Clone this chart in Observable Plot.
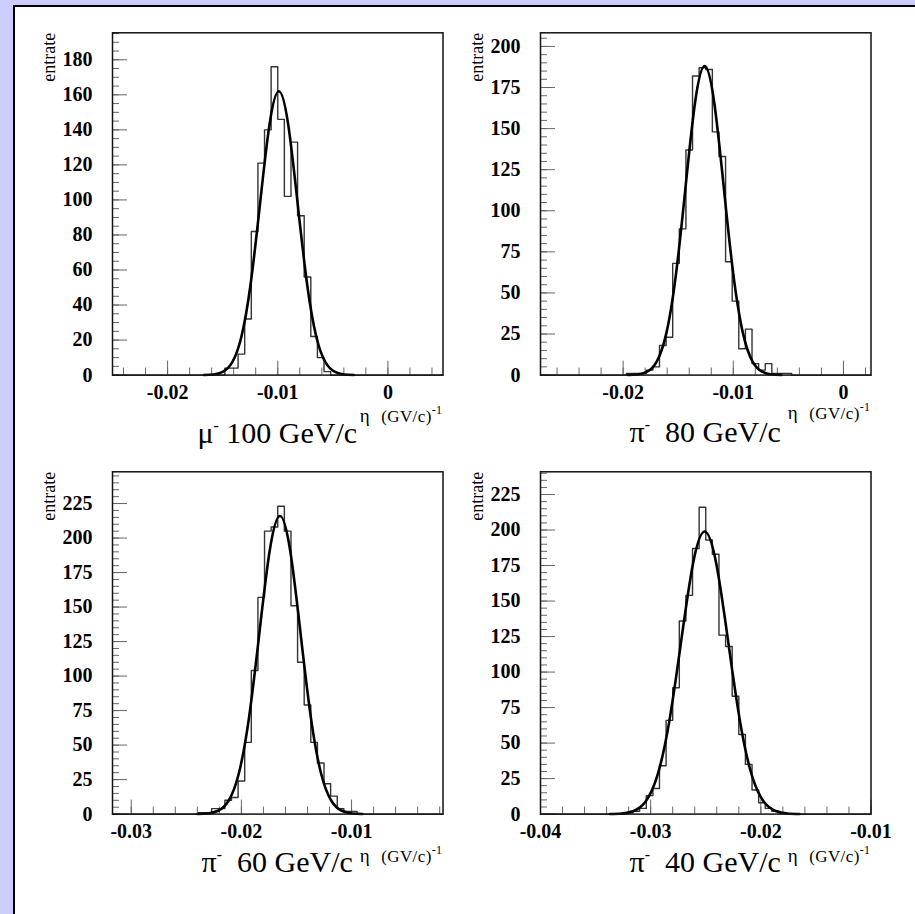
<!DOCTYPE html>
<html>
<head>
<meta charset="utf-8">
<script src="https://cdn.jsdelivr.net/npm/d3@7"></script>
<script src="https://cdn.jsdelivr.net/npm/@observablehq/plot@0.6"></script>
<style>
html, body { margin: 0; padding: 0; background: #ffffff; overflow: hidden; }
#page { position: relative; width: 915px; height: 914px; overflow: hidden; background: #ffffff; }
#bandLeft { position: absolute; left: 0; top: 0; width: 13px; height: 914px; background: #ccccff; }
#bandTop { position: absolute; left: 0; top: 0; width: 915px; height: 5px; background: #ccccff; }
#lineLeft { position: absolute; left: 13px; top: 5px; width: 2px; height: 909px; background: #000; }
#lineTop { position: absolute; left: 13px; top: 5px; width: 902px; height: 2px; background: #000; }
.panel { position: absolute; }
.cap { position: absolute; width: 320px; font-family: "Liberation Serif", serif; font-size: 30px; line-height: 30px;
  text-align: center; white-space: pre; color: #000; }
.cap sup { font-size: 16px; line-height: 0; position: relative; top: -12px; vertical-align: baseline; }
.xt { position: absolute; width: 200px; font-family: "Liberation Serif", serif; font-size: 17px; line-height: 16px;
  text-align: right; white-space: pre; color: #000; letter-spacing: 0.4px; }
.xt .eta { font-size: 19px; margin-right: 11px; }
.xt sup { font-size: 12px; line-height: 0; position: relative; top: -8px; vertical-align: baseline; }
</style>
</head>
<body>
<div id="page"><div id="bandLeft"></div><div id="bandTop"></div><div id="lineLeft"></div><div id="lineTop"></div></div>
<script>
// ---------- data ----------
const particles = ["μ", "π", "π", "π"];
const momenta = ["100 GeV/c", "80 GeV/c", "60 GeV/c", "40 GeV/c"];
const yAxisTitle = "entrate";
const xAxisTitle = "(GV/c)";
const xAxisSymbol = "η";

// histogram ranges (50 bins each) and y-axis maxima
const xRanges = [[-0.025, 0.005], [-0.0275, 0.0025], [-0.0317, -0.0017], [-0.04, -0.01]];
const yMaxima = [195.4, 208.3, 248, 241];

const mu100Counts = [0,0,0,0,0,0,0,0,0,0, 0,0,0,0,0,0,0,4,4,12, 32,82,121,140,176,146,102,133,91,56, 22,10,2,0,0,0,0,0,0,0, 0,0,0,0,0,0,0,0,0,0];
const pi80Counts  = [0,0,0,0,0,0,0,0,0,0, 0,0,0,1,1,1,3,5,18,23, 68,89,137,182,187,186,148,133,69,45, 16,28,7,3,7,1,1,1,0,0, 0,0,0,0,0,0,0,0,0,0];
const pi60Counts  = [0,0,0,0,0,0,0,0,0,0, 0,0,0,1,1,4,4,10,12,24, 52,104,157,205,208,223,205,151,110,79, 52,37,22,13,4,2,2,0,0,0, 0,0,0,0,0,0,0,0,0,0];
const pi40Counts  = [0,0,0,0,0,0,0,0,0,0, 0,0,0,1,2,4,13,18,34,66, 89,136,154,187,216,193,183,126,118,83, 56,35,17,8,4,2,1,0,0,0, 0,0,0,0,0,0,0,0,0,0];

// gaussian fit curves
const mu100FitX = [-0.0167,-0.01585,-0.015,-0.01415,-0.0133,-0.01245,-0.0116,-0.01075,-0.0099,-0.00905,-0.0082,-0.00735,-0.0065,-0.00565,-0.0048,-0.00395,-0.0031];
const mu100FitY = [0.05,0.35,1.8,7.1,21.9,52.6,98.3,143.0,162,143.0,98.3,52.6,21.9,7.1,1.8,0.35,0.05];
const pi80FitX = [-0.01956,-0.01869,-0.01782,-0.01695,-0.01608,-0.01521,-0.01434,-0.01347,-0.0126,-0.01173,-0.01086,-0.00999,-0.00912,-0.00825,-0.00738,-0.00651,-0.00564];
const pi80FitY = [0.06,0.41,2.09,8.26,25.4,61.0,114.0,165.9,188,165.9,114.0,61.0,25.4,8.26,2.09,0.41,0.06];
const pi60FitX = [-0.02398,-0.023045,-0.02211,-0.021175,-0.02024,-0.019305,-0.01837,-0.017435,-0.0165,-0.015565,-0.01463,-0.013695,-0.01276,-0.011825,-0.01089,-0.009955,-0.00902];
const pi60FitY = [0.07,0.47,2.40,9.49,29.2,70.1,131.0,190.6,216,190.6,131.0,70.1,29.2,9.49,2.40,0.47,0.07];
const pi40FitX = [-0.0337,-0.032625,-0.03155,-0.030475,-0.0294,-0.028325,-0.02725,-0.026175,-0.0251,-0.024025,-0.02295,-0.021875,-0.0208,-0.019725,-0.01865,-0.017575,-0.0165];
const pi40FitY = [0.07,0.44,2.21,8.74,26.9,64.6,120.7,175.6,199,175.6,120.7,64.6,26.9,8.74,2.21,0.44,0.07];

// tick labels
const yMajorTicks = [
  [0,20,40,60,80,100,120,140,160,180],
  [0,25,50,75,100,125,150,175,200],
  [0,25,50,75,100,125,150,175,200,225],
  [0,25,50,75,100,125,150,175,200,225]
];
const xMajorTicks = [
  [-0.02,-0.01,0],
  [-0.02,-0.01,0],
  [-0.03,-0.02,-0.01],
  [-0.04,-0.03,-0.02,-0.01]
];

// ---------- layout ----------
const counts = [mu100Counts, pi80Counts, pi60Counts, pi40Counts];
const fitsX = [mu100FitX, pi80FitX, pi60FitX, pi40FitX];
const fitsY = [mu100FitY, pi80FitY, pi60FitY, pi40FitY];
const frameLeft = [112, 540, 112, 540];
const frameTop = [32.3, 32.3, 471.7, 471.7];
const frameW = 330.5, frameH = 342.3;
const svgW = 474, svgH = 420, mL = 112, mT = 32.3;
const capBase = [443, 442, 872, 872];
const xtBase = [421, 418, 861, 861];
const tickColor = "#666";
const page = document.getElementById("page");

function histPoints(c, r) {
  const w = (r[1] - r[0]) / c.length;
  const pts = [{x: r[0], y: 0}];
  c.forEach((v, i) => pts.push({x: r[0] + i * w, y: v}));
  pts.push({x: r[1], y: 0});
  return pts;
}
const fmtX = d => d === 0 ? "0" : d.toFixed(2).replace("\u2212", "-");

for (let p = 0; p < 4; p++) {
  const r = xRanges[p];
  const lo = Math.ceil(r[0] * 500 - 1e-9), hi = Math.floor(r[1] * 500 + 1e-9);
  const xMinor = d3.range(lo, hi + 1).map(k => k / 500);
  const yMinor = d3.range(0, Math.floor(yMaxima[p] / 5) + 1).map(k => k * 5);
  const fit = fitsX[p].map((x, i) => ({x, y: fitsY[p][i]}));

  const chart = Plot.plot({
    width: svgW, height: svgH,
    marginLeft: mL, marginTop: mT,
    marginRight: svgW - mL - frameW,
    marginBottom: svgH - mT - frameH,
    style: {background: "transparent", fontFamily: "'Liberation Serif', serif", fontSize: "20px", fontWeight: "bold", color: "#000", overflow: "visible"},
    x: {domain: r, label: null},
    y: {domain: [0, yMaxima[p]], label: null},
    marks: [
      Plot.axisY({ticks: yMinor, tickSize: -7, tickFormat: () => "", stroke: tickColor, label: null}),
      Plot.axisY({ticks: yMajorTicks[p], tickSize: -15, tickFormat: () => "", stroke: tickColor, label: null}),
      Plot.axisY({ticks: yMajorTicks[p], tickSize: 0, tickPadding: 20, tickFormat: d => String(d), fontSize: 20, fontWeight: "bold", label: null}),
      Plot.axisX({ticks: xMinor, tickSize: -7, tickFormat: () => "", stroke: tickColor, label: null}),
      Plot.axisX({ticks: xMajorTicks[p], tickSize: -14, tickFormat: () => "", stroke: tickColor, label: null}),
      Plot.axisX({ticks: xMajorTicks[p], tickSize: 0, tickPadding: 10, tickFormat: fmtX, fontSize: 20, fontWeight: "bold", label: null}),
      Plot.line(histPoints(counts[p], r), {x: "x", y: "y", curve: "step-after", stroke: "#333", strokeWidth: 1.4}),
      Plot.line(fit, {x: "x", y: "y", curve: "natural", stroke: "#000", strokeWidth: 2.6}),
      Plot.frame({stroke: "#111", strokeWidth: 1.5}),
      Plot.text([yAxisTitle], {text: d => d, frameAnchor: "top-left", rotate: -90, textAnchor: "end", lineAnchor: "bottom", dx: -58, fontSize: 18, fontWeight: "normal"})
    ]
  });
  chart.classList.add("panel");
  chart.style.left = (frameLeft[p] - mL) + "px";
  chart.style.top = (frameTop[p] - mT) + "px";
  page.appendChild(chart);

  const cx = frameLeft[p] + frameW / 2;
  const cap = document.createElement("div");
  cap.className = "cap";
  cap.style.left = (cx - 160) + "px";
  cap.style.top = (capBase[p] - 25.1) + "px";
  cap.innerHTML = particles[p] + "<sup>-</sup>" + (p === 0 ? " " : "  ") + momenta[p];
  page.appendChild(cap);

  const xt = document.createElement("div");
  xt.className = "xt";
  xt.style.left = (frameLeft[p] + frameW - 200) + "px";
  xt.style.top = (xtBase[p] - 13.4) + "px";
  xt.innerHTML = '<span class="eta">' + xAxisSymbol + '</span>' + xAxisTitle + '<sup>-1</sup>';
  page.appendChild(xt);
}
</script>
</body>
</html>
